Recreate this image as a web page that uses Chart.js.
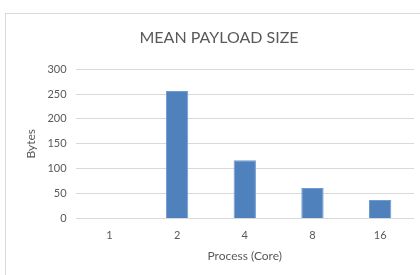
<!DOCTYPE html>
<html>
<head>
<meta charset="utf-8">
<script src="https://cdn.jsdelivr.net/npm/chart.js@4/dist/chart.umd.min.js"></script>
<style>
  body { margin: 0; background: #fff; }
  #wrap { position: relative; width: 420px; height: 275px; overflow: hidden; }
  #frame { position: absolute; left: 5px; top: 13px; width: 430px; height: 280px; border: 1px solid #d9d9d9; }
  canvas { position: absolute; left: 0; top: 0; }
</style>
</head>
<body>
<div id="wrap">
  <div id="frame"></div>
  <canvas id="chart" width="420" height="275"></canvas>
</div>
<script>
const categories = ["1", "2", "4", "8", "16"];
const payload = [0, 256, 117, 61, 37];
const yTicks = [0, 50, 100, 150, 200, 250, 300];

const grey = "#595959";
const font = "Lato, 'Liberation Sans', sans-serif";

const ctx = document.getElementById("chart").getContext("2d");
new Chart(ctx, {
    type: "bar",
    data: {
        labels: categories,
        datasets: [{
            label: "Mean payload size",
            data: payload,
            backgroundColor: "#4f81bd",
            borderColor: "#6f9bd0",
            borderWidth: 1,
            categoryPercentage: 1,
            barPercentage: 0.33
        }]
    },
    options: {
        responsive: false,
        animation: false,
        layout: { padding: { left: 24, right: 6, top: 28, bottom: 12 } },
        plugins: {
            legend: { display: false },
            tooltip: { enabled: false },
            title: {
                display: true,
                text: "MEAN PAYLOAD SIZE",
                color: grey,
                font: { family: font, size: 16, weight: "normal" },
                padding: { top: 0, bottom: 22 }
            }
        },
        scales: {
            x: {
                grid: { display: false },
                border: { display: false },
                ticks: { color: grey, font: { family: font, size: 11 }, padding: 2 },
                title: {
                    display: true,
                    text: "Process (Core)",
                    color: grey,
                    font: { family: font, size: 12 },
                    padding: { top: 5, bottom: 0 }
                }
            },
            y: {
                min: 0,
                max: 300,
                afterBuildTicks: axis => { axis.ticks = yTicks.map(v => ({ value: v })); },
                grid: { color: "#d9d9d9", drawTicks: false },
                border: { display: false },
                ticks: { color: grey, font: { family: font, size: 11 }, padding: 9 },
                title: {
                    display: true,
                    text: "Bytes",
                    color: grey,
                    font: { family: font, size: 12 },
                    padding: { top: 0, bottom: 0 }
                }
            }
        }
    }
});
</script>
</body>
</html>
